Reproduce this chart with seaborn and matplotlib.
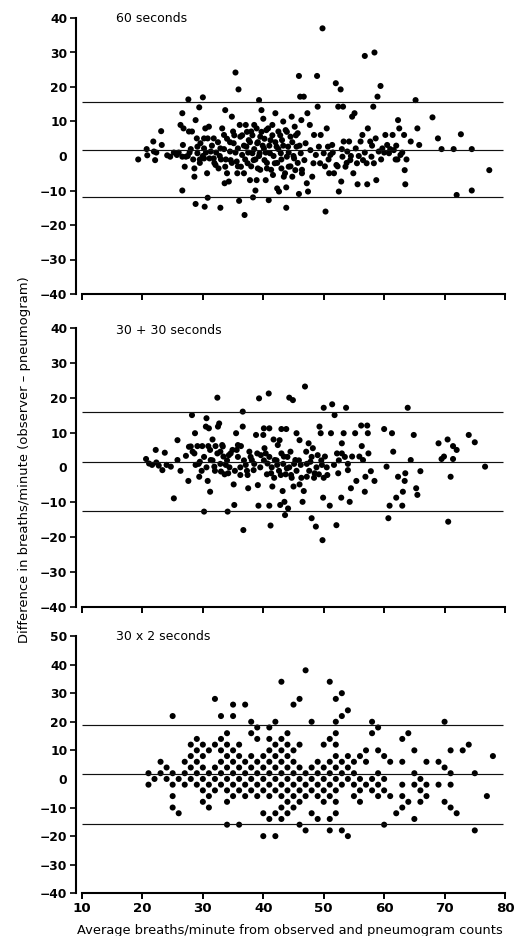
import numpy as np
import pandas as pd
import matplotlib
matplotlib.use("Agg")
import matplotlib.pyplot as plt
import seaborn as sns

# ---------------- data ----------------
titles = ["60 seconds", "30 + 30 seconds", "30 x 2 seconds"]
mean_lines = [1.8, 1.6, 1.8]
upper_lines = [15.7, 15.9, 19.0]
lower_lines = [-12.0, -12.6, -15.7]

p1_x = [19.3, 20.7, 20.8, 21.8, 21.9, 22.1, 22.3, 23.1, 23.2, 24.1, 24.6, 25.2, 25.7, 26.6, 26.6, 26.7,
        26.6, 26.3, 26.8, 27.0, 27.2, 27.6, 27.7, 28.2, 28.6, 28.6, 28.8, 28.8, 29.0, 29.1, 29.1, 29.4,
        29.6, 30.0, 30.2, 30.2, 30.2, 30.3, 30.4, 30.7, 30.8, 30.8, 31.0, 31.1, 31.3, 31.8, 31.8, 32.1,
        32.6, 32.9, 32.9, 33.2, 33.5, 33.7, 33.7, 33.6, 34.0, 34.3, 34.5, 34.6, 34.8, 35.0, 35.1, 35.4,
        35.6, 35.7, 35.8, 35.9, 36.0, 36.1, 36.2, 36.3, 36.5, 36.8, 36.9, 37.1, 37.2, 37.4, 37.6, 37.8,
        38.0, 38.2, 38.3, 38.4, 38.5, 38.7, 38.9, 39.0, 39.1, 39.3, 39.4, 39.5, 39.7, 40.0, 40.1, 40.2,
        40.4, 40.5, 40.6, 40.9, 41.1, 41.2, 41.5, 41.6, 41.9, 42.0, 42.2, 42.3, 42.5, 42.6, 42.9, 43.0,
        43.1, 43.3, 43.4, 43.7, 43.8, 43.8, 43.9, 44.1, 44.2, 44.5, 44.7, 44.8, 45.1, 45.2, 45.3, 45.5,
        45.7, 45.9, 45.9, 46.1, 46.2, 46.3, 46.4, 46.7, 46.8, 47.0, 47.2, 47.3, 47.4, 47.7, 47.8, 48.1,
        48.3, 48.4, 48.7, 48.9, 49.0, 49.2, 49.4, 49.5, 49.8, 50.0, 50.3, 50.5, 50.7, 50.9, 51.1, 51.4,
        51.7, 52.0, 52.1, 52.4, 52.5, 52.8, 52.9, 53.1, 53.2, 53.3, 53.6, 53.9, 54.2, 54.4, 54.7, 54.9,
        55.1, 55.3, 55.5, 55.6, 56.1, 56.4, 56.5, 56.8, 57.1, 57.2, 57.3, 57.7, 57.9, 58.2, 58.3, 58.4,
        58.6, 58.7, 58.9, 59.1, 59.4, 59.7, 60.2, 60.5, 60.8, 61.4, 61.6, 61.9, 62.3, 62.5, 62.7, 63.3,
        63.4, 63.5, 63.7, 64.4, 65.2, 65.5, 65.8, 68.0, 68.9, 69.5, 71.5, 72.0, 72.7, 74.5, 74.5, 77.4,
        36.5, 36.8, 37.0, 37.3, 37.5, 37.8, 38.0, 38.2, 38.5, 38.7, 38.9, 39.1, 39.3, 39.5, 39.7, 39.9,
        40.2, 40.4, 40.6, 40.8, 41.0, 41.3, 41.5, 41.7, 42.0, 42.3, 42.5, 42.8, 43.0, 43.3, 43.6, 43.9,
        44.2, 44.5, 44.8, 45.0, 45.4, 45.7, 46.0, 46.4, 34.5, 34.8, 35.2, 35.4, 35.8, 33.5, 33.8, 34.0,
        32.5, 32.8, 31.5, 31.9, 30.5, 29.5, 28.0, 27.5, 26.0, 27.8, 28.4, 29.5, 30.0, 32.2, 33.0,
        55.8, 56.8, 58.0, 59.5, 60.0, 61.0, 62.0, 62.2, 63.0, 50.2, 50.8, 51.5, 52.3, 53.0, 53.8, 54.5]
p1_y = [-1.0, 2.0, 0.2, 4.2, 1.3, -1.2, 1.0, 7.2, 3.2, 0.2, -0.2, 1.0, 0.3, -0.2, -10.0, 3.2,
        12.4, 9.0, 8.0, -3.1, -0.2, 16.4, 7.1, 7.1, -3.6, -6.0, -13.9, 10.4, 5.1, 2.7, 0.8, 14.1,
        3.7, 17.0, 5.1, 2.2, -0.7, -14.7, 8.0, -5.0, -12.1, 5.1, 8.5, -0.7, 1.3, 5.1, -0.7, -2.6,
        -3.6, -15.0, 2.2, 8.0, 6.1, 13.3, -3.1, -7.9, -5.0, -7.4, 1.3, -1.2, 11.4, 7.1, 3.7, 24.2,
        -1.6, -5.0, 2.2, 19.3, -13.0, 9.0, 5.6, -3.1, 0.3, -5.0, -17.1, 9.0, 2.7, -2.1, 4.6, -7.0,
        7.1, 0.8, -12.0, -1.2, 9.0, -10.0, -7.0, 3.7, -3.6, 16.2, 0.8, 5.6, 13.3, 10.8, 2.2, -1.2,
        -7.0, 7.5, -3.6, -12.8, 0.8, 4.6, 9.0, -5.5, -2.1, 12.4, 2.7, -9.4, 7.1, -10.3, 0.8, -3.6,
        4.6, 10.0, -6.0, 7.5, -15.0, -9.1, -0.2, 2.7, -3.1, 5.6, 11.4, -6.0, -0.7, 8.5, -4.1, 2.7,
        6.6, 23.2, -11.0, 17.2, 0.8, 10.4, -5.0, 17.2, -1.2, 3.7, -7.9, 12.4, -10.3, 9.0, 1.7, -6.0,
        -2.1, 6.1, 0.3, 23.2, 14.3, 2.7, -2.1, 6.1, 37.0, 0.8, -16.1, 8.0, 2.7, -5.0, 0.3, 3.2,
        -5.0, 21.1, -2.6, 14.3, -10.3, 19.3, -7.4, -0.2, 14.3, 4.2, -3.1, 1.3, 4.2, -1.2, 11.4, -5.0,
        12.4, 2.2, -2.1, -8.2, 4.2, 6.1, -1.2, 29.0, -2.1, -8.2, 8.0, 4.2, -0.2, 14.3, -2.1, 30.0,
        5.1, -7.0, 17.2, 1.3, 20.3, 2.2, 6.1, 3.2, 0.8, 6.1, 1.7, -1.0, 10.4, 8.0, 0.3, 6.1,
        -4.1, -8.2, -1.0, 4.2, 16.2, 8.0, 3.2, 11.2, 5.1, 2.0, 2.0, -11.3, 6.3, 2.0, -10.0, -4.1,
        6, 3, -1, 7, 1, 4, -3, 6, 2, -1, 8, 4, 0, -4, 7, 3,
        5, 1, -2, 8, 3, -4, 6, 0, 4, -2, 2, 6, -1, 3, -5, 7,
        1, -3, 4, 0, 6, -2, 3, -4, 4, -2, 6, 1, -3, 2, -1, 5,
        4, 0, 3, -2, 1, -1, 2, 0, 1, 1, -1, -2, 0, 1, -1,
        0, 1, 3, -1, 1, 2, 3, -1, 1, -3, -1, 1, -3, 2, -2, 0]

p2_x = [20.6, 21.1, 21.6, 22.2, 22.3, 22.7, 23.3, 23.7, 24.0, 24.7, 25.2, 25.8, 25.8, 26.3, 27.2, 27.6,
        27.7, 28.2, 28.3, 28.7, 28.8, 29.1, 29.4, 29.5, 29.9, 30.2, 30.5, 30.6, 30.8, 30.9, 31.0, 31.2,
        31.3, 31.6, 31.9, 32.1, 32.4, 32.5, 32.7, 32.9, 33.0, 33.2, 33.4, 33.8, 34.1, 34.2, 34.3, 34.6,
        35.1, 35.2, 35.5, 35.6, 35.8, 36.2, 36.3, 36.6, 36.6, 36.7, 37.1, 37.4, 37.5, 37.7, 38.1, 38.4,
        38.8, 39.1, 39.2, 39.3, 39.6, 40.0, 40.1, 40.2, 40.4, 40.7, 40.9, 41.0, 41.0, 41.2, 41.3, 41.5,
        41.7, 41.9, 42.3, 42.4, 42.7, 42.8, 42.9, 43.0, 43.2, 43.4, 43.5, 43.6, 43.8, 43.9, 44.1, 44.3,
        44.5, 44.6, 44.9, 45.0, 45.3, 45.5, 46.0, 46.0, 46.2, 46.5, 46.7, 46.9, 47.1, 47.2, 47.5, 47.8,
        48.0, 48.2, 48.5, 48.7, 49.0, 49.3, 49.5, 49.7, 49.8, 49.9, 50.0, 50.2, 50.6, 51.0, 51.2, 51.4,
        51.7, 51.8, 52.1, 52.2, 52.4, 52.9, 53.0, 53.3, 53.7, 54.0, 54.3, 54.5, 54.7, 55.2, 55.4, 55.9,
        56.2, 56.3, 56.5, 56.8, 56.9, 57.2, 57.3, 57.4, 57.8, 58.4, 60.0, 60.4, 60.7, 60.9, 61.3, 61.5,
        62.0, 62.3, 63.0, 63.1, 63.4, 63.5, 63.9, 64.4, 64.9, 65.3, 65.5, 66.0, 69.0, 69.5, 69.9, 70.5,
        70.6, 71.0, 71.4, 71.4, 72.0, 74.0, 75.0, 76.7,
        28.0, 28.6, 29.3, 29.8, 30.2, 30.6, 31.2, 31.6, 32.0, 32.4, 32.9, 33.3, 33.6, 34.0, 34.4, 34.9,
        35.3, 35.8, 36.2, 36.8, 37.3, 37.9, 38.5, 39.0, 39.5, 40.1, 40.6, 41.0, 41.4, 41.8, 42.2, 42.6,
        43.0, 43.3, 43.7, 44.0, 44.3, 44.7, 45.1, 45.5, 45.9, 46.3, 47.2, 47.6, 48.0, 48.4, 48.8, 49.2,
        49.6, 50.0, 50.5, 52.5, 53.0, 53.5, 54.0]
p2_y = [2.4, 1.1, 0.7, 5.0, 1.4, 0.5, -0.8, 4.2, 0.7, 0.2, -8.9, 7.8, 2.1, -1.0, 3.3, -3.9,
        5.9, 15.0, 4.5, 9.8, 0.7, 6.1, -2.7, 1.6, 6.1, -12.7, 11.7, 14.1, -3.9, 6.1, 11.2, -7.0,
        2.1, 8.0, 0.2, 6.1, 20.0, 11.7, 12.6, 4.5, -1.2, 6.4, 3.1, 0.7, -12.7, -1.7, 3.5, 4.0,
        -4.9, -10.8, 9.8, 5.0, 6.4, -2.2, 6.1, 16.0, 11.7, -18.0, 0.7, -2.2, -6.0, 4.5, 2.1, -0.8,
        9.3, -5.1, -11.0, 19.8, 3.5, 9.3, 11.2, 5.5, 4.0, 1.1, 21.2, 11.2, -11.0, -16.7, -1.7, -5.5,
        8.0, 2.1, 0.7, 6.4, 7.8, -10.8, -2.2, 11.0, -6.8, 3.1, -9.9, -13.7, 11.0, -0.3, -11.8, 20.0,
        4.5, -2.2, 19.3, -5.5, 2.1, 9.8, 7.8, -4.9, 0.7, -9.9, -6.8, 23.2, 4.5, -2.7, 6.9, 1.6,
        -14.6, 5.5, -1.7, -17.0, 3.5, 11.7, 9.8, 0.7, -20.9, -8.7, 17.1, 3.1, -2.2, -11.0, 9.8, 18.1,
        0.7, 15.0, -16.6, 4.0, -1.7, -8.7, 6.9, 9.8, 17.1, -0.8, -9.9, -6.0, 3.1, 9.8, -3.9, 3.1,
        12.0, 6.1, 2.1, -7.0, -2.7, 12.0, 9.8, 4.0, -1.1, -3.9, 11.0, 0.2, -14.6, -11.0, 9.8, 4.5,
        -8.7, -2.7, -11.0, -7.0, -3.9, -1.7, 17.1, 2.1, 9.3, -6.0, -7.9, -1.1, 6.9, 2.4, 3.1, 8.0,
        -15.6, -2.7, 6.1, 2.4, 5.0, 9.3, 7.2, 0.2,
        6, 4, 1, -1, 3, 0, 5, 2, -1, 4, 1, 6, -2, 2, 0, 5,
        -1, 3, 0, 2, -1, 3, 1, 4, 0, 2, -2, 3, 0, -3, 2, -1,
        4, 1, -2, 3, 0, -3, 1, -1, 2, -3, 1, -1, 3, -3, 0, -2,
        2, -3, 0, 2, 4, 3, 1]

p3_x = [21, 21, 22, 23, 23, 24, 24, 25, 25, 25, 25, 25, 26, 26, 27, 27, 27,
        28, 28, 28, 28, 29, 29, 29, 29, 29, 30, 30, 30, 30, 30, 30,
        31, 31, 31, 31, 31, 32, 32, 32, 32, 32, 33, 33, 33, 33, 33, 33,
        34, 34, 34, 34, 34, 34, 34, 34, 35, 35, 35, 35, 35, 35, 35,
        36, 36, 36, 36, 36, 36, 37, 37, 37, 37, 37, 38, 38, 38, 38, 38, 38,
        39, 39, 39, 39, 39, 39, 40, 40, 40, 40, 40, 40,
        41, 41, 41, 41, 41, 41, 41, 41, 42, 42, 42, 42, 42, 42, 42, 42,
        43, 43, 43, 43, 43, 43, 43, 43, 43, 44, 44, 44, 44, 44, 44, 44, 44,
        45, 45, 45, 45, 45, 45, 45, 46, 46, 46, 46, 46, 46, 46,
        47, 47, 47, 47, 47, 48, 48, 48, 48, 48, 49, 49, 49, 49, 49,
        50, 50, 50, 50, 50, 51, 51, 51, 51, 51, 51, 51, 51,
        52, 52, 52, 52, 52, 52, 52, 52, 52, 52, 53, 53, 53, 53, 53, 53,
        54, 54, 54, 54, 54, 55, 55, 55, 55, 56, 56, 56, 56, 57, 57, 57,
        58, 58, 58, 58, 59, 59, 59, 59, 59, 60, 60, 60, 60, 61, 61, 62,
        63, 63, 63, 63, 63, 64, 64, 65, 65, 65, 65, 66, 66, 66, 67, 67, 67,
        69, 69, 70, 70, 70, 71, 71, 71, 71, 72, 73, 74, 75, 75, 77, 78]
p3_y = [2, -2, 0, 6, 2, 4, 0, 22, 2, -2, -6, -10, 0, -12, 6, 2, -2,
        12, 8, 4, 0, 14, 10, 6, 2, -2, 12, 8, 4, 0, -4, -8,
        10, 2, -2, -6, -10, 28, 12, 4, 0, -4, 22, 14, 10, 6, 2, -2,
        16, 12, 8, 4, 0, -4, -8, -16, 26, 22, 10, 6, 2, -2, -6,
        12, 8, 4, 0, -4, -16, 26, 6, 2, -2, -6, 20, 16, 8, 4, 0, -4,
        18, 14, 6, 2, -2, -6, 8, 4, 0, -4, -12, -20,
        18, 14, 10, 6, 2, -2, -6, -14, 20, 12, 8, 4, 0, -4, -12, -20,
        34, 14, 10, 6, 2, -2, -6, -10, -14, 16, 12, 8, 4, 0, -4, -8, -12,
        26, 10, 6, 2, -2, -6, -10, 28, 12, 4, 0, -4, -8, -16,
        38, 2, -2, -6, -18, 20, 4, 0, -4, -12, 6, 2, -2, -6, -14,
        12, 4, 0, -4, -8, 34, 14, 6, 2, -2, -6, -14, -18,
        28, 20, 16, 12, 8, 4, 0, -4, -8, -12, 30, 22, 6, 2, -2, -18,
        24, 8, 4, 0, -20, 6, 2, -2, -6, 8, 0, -4, -8, 10, 6, -2,
        20, 16, 0, -4, 18, 10, 2, -2, -6, 8, 0, -4, -16, 6, -6, -12,
        14, 6, -2, -6, -10, 16, -8, 10, 2, -2, -14, 0, -4, -8, 6, -2, -6,
        6, -2, 20, 4, -8, 10, 2, -2, -10, -12, 10, 12, 2, -18, -6, 8]

x_ticks = [10, 20, 30, 40, 50, 60, 70, 80]
y_ticks_top = [-40, -30, -20, -10, 0, 10, 20, 30, 40]
y_ticks_bottom = [-40, -30, -20, -10, 0, 10, 20, 30, 40, 50]

xlabel = "Average breaths/minute from observed and pneumogram counts"
ylabel = "Difference in breaths/minute (observer \u2013 pneumogram)"

# ---------------- plot ----------------
sns.set_style("ticks")
plt.rcParams["font.family"] = ["DejaVu Sans"]
plt.rcParams["axes.unicode_minus"] = True

W, H = 528, 936
fig = plt.figure(figsize=(W / 100, H / 100), dpi=100)

def frac_rect(px_top, px_bottom):
    left = 82 / W
    width = (505 - 82) / W
    return [left, 1 - px_bottom / H, width, (px_bottom - px_top) / H]

rects = [frac_rect(18, 294), frac_rect(328, 606.7), frac_rect(636, 893.3)]
ylims = [(-40, 40), (-40, 40), (-40, 50)]
yticks_all = [y_ticks_top, y_ticks_top, y_ticks_bottom]
data = [(p1_x, p1_y), (p2_x, p2_y), (p3_x, p3_y)]
title_y = [1 - 1.0 / 276, 1 - 2.0 / 278.7, 1.0]

xlab_text = None
for i in range(3):
    ax = fig.add_axes(rects[i])
    xs, ys = data[i]
    df = pd.DataFrame({"avg": xs, "diff": ys})
    sns.scatterplot(data=df, x="avg", y="diff", ax=ax, color="black", s=19,
                    linewidth=0, edgecolor="none", legend=False)
    for v in (mean_lines[i], upper_lines[i], lower_lines[i]):
        ax.hlines(v, 10, 79.6, color="#111111", linewidth=0.85)
    ax.set_xlim(10, 80)
    ax.set_ylim(*ylims[i])
    ax.set_xticks(x_ticks)
    ax.set_yticks(yticks_all[i])
    ax.set_xlabel("")
    ax.set_ylabel("")
    sns.despine(ax=ax)
    ax.spines["left"].set_position(("outward", 4.5))
    for sp in ("left", "bottom"):
        ax.spines[sp].set_linewidth(1.5)
        ax.spines[sp].set_color("black")
    ax.tick_params(axis="y", direction="out", length=4.5, width=1.2, pad=1.5,
                   labelsize=8.8, colors="black")
    ax.tick_params(axis="x", direction="out", length=4.3, width=1.4, pad=2.0,
                   labelsize=9.6, colors="black")
    for lab in ax.get_yticklabels() + ax.get_xticklabels():
        lab.set_fontweight("bold")
    for t, val in zip(ax.yaxis.get_major_ticks(), yticks_all[i]):
        if val == 0:
            t.tick1line.set_visible(False)
    if i < 2:
        ax.set_xticklabels([])
    ax.text(0.080, title_y[i], titles[i], transform=ax.transAxes,
            ha="left", va="center", fontsize=9, color="black")
    if i == 2:
        ax.set_xlabel(xlabel, fontsize=9, color="black")
        ax.xaxis.set_label_coords(0.492, -0.118)
        xlab_text = ax.xaxis.label

ylab_text = fig.text(25 / W, 1 - 460 / H, ylabel, rotation=90, ha="center", va="center",
                     fontsize=9, color="black")

# fit label lengths to the reference extents
fig.canvas.draw()
r = fig.canvas.get_renderer()
bb = xlab_text.get_window_extent(r)
xlab_text.set_fontsize(9 * 425.0 / bb.width)
bb = ylab_text.get_window_extent(r)
ylab_text.set_fontsize(9 * 364.0 / bb.height)

fig.savefig("out.png", dpi=100)
